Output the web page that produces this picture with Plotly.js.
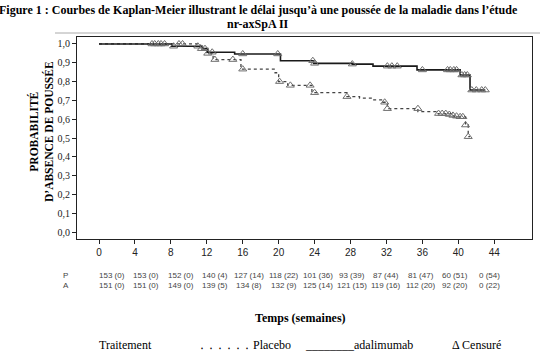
<!DOCTYPE html>
<html><head><meta charset="utf-8">
<script src="https://cdn.plot.ly/plotly-3.0.1.min.js"></script>
<style>html,body{margin:0;padding:0;background:#fff}#c{width:545px;height:353px}</style>
</head><body><div id="c"></div>
<script>
// ---- data ----
const adaTimes = [0, 8.1, 11.5, 12.1, 15.1, 20.2, 23.9, 28.2, 30.5, 35.4, 40.2, 41.3, 43.0];
const adaSurv  = [1.0, 0.988, 0.975, 0.956, 0.947, 0.911, 0.897, 0.893, 0.882, 0.862, 0.835, 0.755, 0.755];
const adaCensT = [5.9, 6.6, 7.3, 8.3, 11.0, 11.8, 12.6, 16.0, 19.9, 23.8, 24.0, 28.2, 32.1, 32.6, 33.2, 36.0, 38.8, 39.1, 39.5, 39.8, 40.4, 40.7, 41.0, 41.5, 42.0, 42.6, 43.0];
const adaCensS = [1.0, 1.0, 1.0, 0.988, 0.988, 0.975, 0.956, 0.947, 0.947, 0.911, 0.897, 0.893, 0.882, 0.882, 0.882, 0.862, 0.862, 0.862, 0.862, 0.862, 0.835, 0.835, 0.835, 0.755, 0.755, 0.755, 0.755];
const plaTimes = [0, 11.3, 12.0, 12.7, 15.8, 19.6, 20.0, 21.0, 23.7, 27.6, 29.0, 30.5, 31.6, 32.1, 35.5, 37.5, 39.5, 40.8, 41.1, 41.3];
const plaSurv  = [1.0, 0.975, 0.95, 0.917, 0.866, 0.847, 0.800, 0.780, 0.741, 0.720, 0.712, 0.703, 0.690, 0.656, 0.640, 0.630, 0.613, 0.569, 0.507, 0.507];
const plaCensT = [6.2, 6.9, 8.9, 9.3, 11.4, 12.1, 12.9, 14.9, 16.0, 20.1, 21.3, 23.5, 24.0, 27.6, 31.8, 32.1, 35.5, 37.8, 38.2, 38.6, 39.0, 39.4, 39.8, 40.2, 40.5, 40.8, 41.1];
const plaCensS = [1.0, 1.0, 1.0, 1.0, 0.975, 0.95, 0.917, 0.917, 0.866, 0.800, 0.780, 0.780, 0.741, 0.720, 0.690, 0.656, 0.656, 0.630, 0.630, 0.630, 0.625, 0.620, 0.616, 0.613, 0.613, 0.569, 0.507];
const weekTicks = [0, 4, 8, 12, 16, 20, 24, 28, 32, 36, 40, 44];
const yTicks = [0, 0.1, 0.2, 0.3, 0.4, 0.5, 0.6, 0.7, 0.8, 0.9, 1.0];
const riskP = ["153 (0)","153 (0)","152 (0)","140 (4)","127 (14)","118 (22)","101 (36)","93 (39)","87 (44)","81 (47)","60 (51)","0 (54)"];
const riskA = ["151 (0)","151 (0)","149 (0)","139 (5)","134 (8)","132 (9)","125 (14)","121 (15)","119 (16)","112 (20)","92 (20)","0 (22)"];
const rowLabels = ["P", "A"];

// ---- layout helpers ----
const W = 545, H = 353, L = 77, R = 13, T = 37, B = 114;
const pw = W - L - R, ph = H - T - B;
const px2x = x => (x - L) / pw;
const py2y = y => (H - B - y) / ph;
const serif = "Liberation Serif, Times New Roman, serif";
const sans = "Liberation Sans, Arial, sans-serif";

const markerStyle = {symbol: 'triangle-up-open', size: 7, color: '#6e6e6e', line: {width: 1, color: '#6e6e6e'}};
const traces = [
  {x: plaTimes, y: plaSurv, mode: 'lines', line: {shape: 'hv', dash: 'dot', width: 1.3, color: '#444'}, hoverinfo: 'skip'},
  {x: adaTimes, y: adaSurv, mode: 'lines', line: {shape: 'hv', width: 1.6, color: '#1a1a1a'}, hoverinfo: 'skip'},
  {x: plaCensT, y: plaCensS, mode: 'markers', marker: markerStyle, hoverinfo: 'skip'},
  {x: adaCensT, y: adaCensS, mode: 'markers', marker: markerStyle, hoverinfo: 'skip'}
];

const ann = [];
const riskFont = {family: sans, size: 8, color: '#444'};
riskP.forEach((t, i) => ann.push({text: t, xref: 'paper', yref: 'paper', x: px2x(112 + i * 34.3), y: py2y(275), xanchor: 'center', yanchor: 'middle', showarrow: false, font: riskFont}));
riskA.forEach((t, i) => ann.push({text: t, xref: 'paper', yref: 'paper', x: px2x(112 + i * 34.3), y: py2y(285), xanchor: 'center', yanchor: 'middle', showarrow: false, font: riskFont}));
rowLabels.forEach((t, i) => ann.push({text: t, xref: 'paper', yref: 'paper', x: px2x(61), y: py2y(275 + i * 10), xanchor: 'left', yanchor: 'middle', showarrow: false, font: riskFont}));
ann.push({text: '<b>Figure 1 : Courbes de Kaplan-Meier illustrant le délai jusqu\u2019à une poussée de la maladie dans l\u2019étude</b>', xref: 'paper', yref: 'paper', x: px2x(258), y: py2y(10), xanchor: 'center', yanchor: 'middle', showarrow: false, font: {family: serif, size: 12, color: '#000'}});
ann.push({text: '<b>nr-axSpA II</b>', xref: 'paper', yref: 'paper', x: px2x(258), y: py2y(24), xanchor: 'center', yanchor: 'middle', showarrow: false, font: {family: serif, size: 12, color: '#000'}});
ann.push({text: '<b>Temps (semaines)</b>', xref: 'paper', yref: 'paper', x: px2x(300), y: py2y(318), xanchor: 'center', yanchor: 'middle', showarrow: false, font: {family: serif, size: 12, color: '#000'}});
ann.push({text: '<b>PROBABILITÉ<br>D\u2019ABSENCE DE POUSSÉE</b>', textangle: -90, xref: 'paper', yref: 'paper', x: px2x(41), y: py2y(132), xanchor: 'center', yanchor: 'middle', showarrow: false, font: {family: serif, size: 11.5, color: '#000'}});
const legendItems = [["Traitement", 97], ["\u2024 \u2024 \u2024 \u2024 \u2024 \u2024 Placebo", 197], ["________adalimumab", 303], ["\u0394 Censuré", 450]];
legendItems.forEach(([t, x]) => ann.push({text: t, xref: 'paper', yref: 'paper', x: px2x(x), y: py2y(345), xanchor: 'left', yanchor: 'middle', showarrow: false, font: {family: serif, size: 12, color: '#000'}}));

const layout = {
  width: W, height: H,
  margin: {l: L, r: R, t: T, b: B, pad: 0},
  paper_bgcolor: '#fff', plot_bgcolor: '#fff',
  showlegend: false,
  separators: ', ',
  xaxis: {range: [-2.45, 48.2], tickvals: weekTicks, ticktext: weekTicks.map(String), showgrid: false, zeroline: false,
          showline: true, mirror: true, linecolor: '#222', linewidth: 1, ticks: 'outside', ticklen: 4, tickcolor: '#222',
          tickfont: {family: sans, size: 10, color: '#222'}},
  yaxis: {range: [-0.037, 1.037], tickvals: yTicks, tickformat: '.1f', showgrid: false, zeroline: false,
          showline: true, mirror: true, linecolor: '#222', linewidth: 1, ticks: 'outside', ticklen: 4, tickcolor: '#222',
          tickfont: {family: serif, size: 10, color: '#222'}},
  shapes: [{type: 'line', xref: 'paper', yref: 'paper', x0: px2x(55), x1: px2x(540), y0: py2y(33), y1: py2y(33), line: {color: '#aaa', width: 1}}],
  annotations: ann
};
Plotly.newPlot('c', traces, layout, {staticPlot: true});
</script></body></html>
